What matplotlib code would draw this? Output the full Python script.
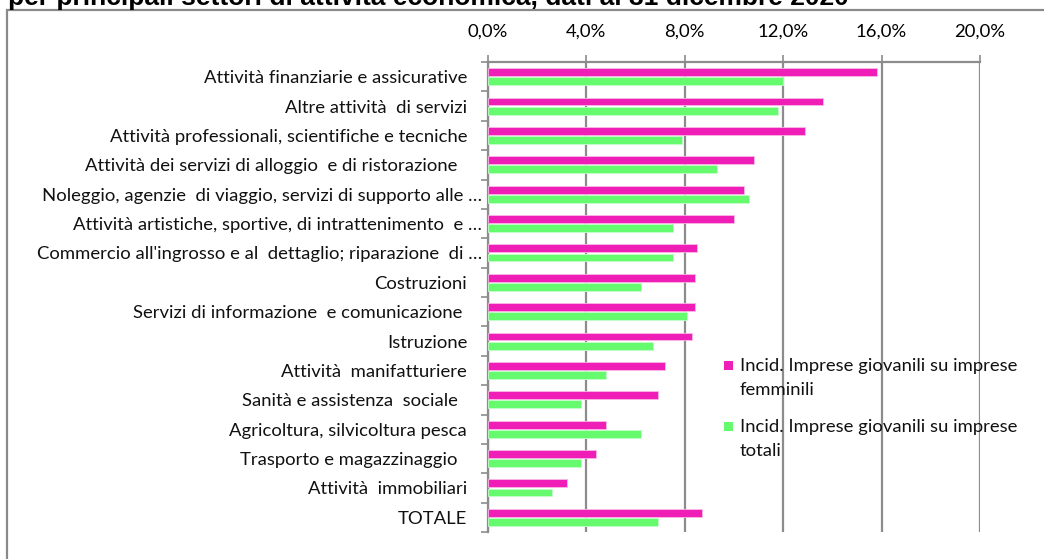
import matplotlib
matplotlib.use("Agg")
import matplotlib.pyplot as plt
from matplotlib.patches import Rectangle
from matplotlib.ticker import FuncFormatter, FixedLocator, NullFormatter
import matplotlib.transforms as mtransforms
import numpy as np

categories = [
    "Attività finanziarie e assicurative",
    "Altre attività  di servizi",
    "Attività professionali, scientifiche e tecniche",
    "Attività dei servizi di alloggio  e di ristorazione  ",
    "Noleggio, agenzie  di viaggio, servizi di supporto alle …",
    "Attività artistiche, sportive, di intrattenimento  e …",
    "Commercio all'ingrosso e al  dettaglio; riparazione  di …",
    "Costruzioni",
    "Servizi di informazione  e comunicazione ",
    "Istruzione",
    "Attività  manifatturiere",
    "Sanità e assistenza  sociale  ",
    "Agricoltura, silvicoltura pesca",
    "Trasporto e magazzinaggio  ",
    "Attività  immobiliari",
    "TOTALE",
]
femminili = [15.8, 13.6, 12.9, 10.8, 10.4, 10.0, 8.5, 8.4, 8.4, 8.3, 7.2, 6.9, 4.8, 4.4, 3.2, 8.7]
totali = [12.0, 11.8, 7.9, 9.3, 10.6, 7.5, 7.5, 6.2, 8.1, 6.7, 4.8, 3.8, 6.2, 3.8, 2.6, 6.9]
x_ticks = [0, 4, 8, 12, 16, 20]
series_labels = ["Incid. Imprese giovanili su imprese\nfemminili",
                 "Incid. Imprese giovanili su imprese\ntotali"]
title = "per principali settori di attività economica, dati al 31 dicembre 2020"

MAGENTA = "#EE1EB6"
GREEN = "#66FA6E"
GRID = "#8C8C8C"
FONT = ["Lato", "DejaVu Sans"]
FS = 13.3

fig = plt.figure(figsize=(10.44, 5.59), dpi=100)
W, H = 1044, 559

# outer chart frame
fig.patches.append(Rectangle((7 / W, -0.1), 1.2, 1 - 10 / H + 0.1,
                             transform=fig.transFigure, fill=False,
                             edgecolor="#8A8A8A", linewidth=1.6))

# clipped title (only its lower part is visible, as in the reference)
fig.text(8 / W, 1 - 4.5 / H, title,
         fontsize=19, fontweight="bold", family="Liberation Sans",
         ha="left", va="baseline", color="black")

ax = fig.add_axes([488 / W, 1 - 532 / H, (980 - 488) / W, (532 - 62) / H])
n = len(categories)
y = np.arange(n)
h = 0.27
ax.barh(y - h / 2 - 0.02, femminili, height=h, color=MAGENTA, edgecolor="#F8B8E4", linewidth=0.6,
        zorder=3)
ax.barh(y + h / 2 + 0.02, totali, height=h, color=GREEN, edgecolor="#C8FDCB", linewidth=0.6,
        zorder=3)

ax.set_ylim(n - 0.5, -0.5)
ax.set_xlim(0, 20)
ax.xaxis.tick_top()
ax.set_xticks(x_ticks)
ax.xaxis.set_major_formatter(FuncFormatter(lambda v, p: f"{v:.1f}%".replace(".", ",")))
ax.tick_params(axis="x", length=5, width=1.2, color=GRID, pad=11, labelsize=FS)
for lab in ax.get_xticklabels():
    lab.set_family(FONT)

ax.yaxis.set_major_locator(FixedLocator(y))
ax.set_yticklabels(categories)
ax.tick_params(axis="y", which="major", length=0, pad=15, labelsize=FS)
shift = mtransforms.ScaledTranslation(15 / 100, 0, fig.dpi_scale_trans)
for lab in ax.get_yticklabels():
    lab.set_family(FONT)
    lab.set_color("#111111")
    if lab.get_text().endswith("…"):
        lab.set_transform(lab.get_transform() + shift)
ax.yaxis.set_minor_locator(FixedLocator(np.arange(-0.5, n, 1)))
ax.yaxis.set_minor_formatter(NullFormatter())
ax.tick_params(axis="y", which="minor", length=5, width=1.2, color=GRID)

ax.grid(axis="x", color=GRID, linewidth=1.6, zorder=0)
ax.set_axisbelow(True)
for s in ["right", "bottom"]:
    ax.spines[s].set_visible(False)
for s in ["left", "top"]:
    ax.spines[s].set_color(GRID)
    ax.spines[s].set_linewidth(1.6)

# legend drawn as in the reference (no frame, handle aligned with first line)
legend_colors = [MAGENTA, GREEN]
legend_first_line_y = [366, 427]
for lbl, col, ly in zip(series_labels, legend_colors, legend_first_line_y):
    fig.patches.append(Rectangle((724 / W, 1 - (ly + 4) / H), 9 / W, 9 / H,
                                 transform=fig.transFigure, facecolor=col,
                                 edgecolor="none", zorder=5))
    for i, line in enumerate(lbl.split("\n")):
        fig.text(740 / W, 1 - (ly + i * 24) / H, line, fontsize=FS, family=FONT,
                 ha="left", va="center", color="#111111", zorder=5)

fig.savefig("out.png", dpi=100)
